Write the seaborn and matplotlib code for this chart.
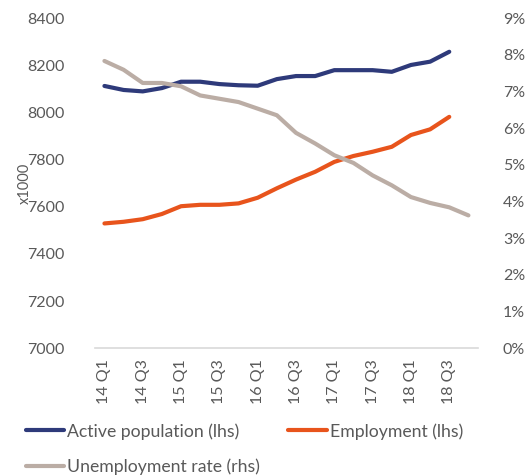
import numpy as np
import pandas as pd
import matplotlib
matplotlib.use("Agg")
from matplotlib import pyplot as plt
import seaborn as sns

quarters = [f"{y} Q{q}" for y in range(14, 19) for q in range(1, 5)]
active_population = [8112, 8095, 8089, 8103, 8130, 8130, 8120, 8115, 8113, 8141,
                     8154, 8154, 8179, 8179, 8179, 8172, 8201, 8215, 8257]
employment = [7529, 7536, 7547, 7569, 7602, 7608, 7608, 7614, 7638, 7678,
              7715, 7748, 7790, 7815, 7833, 7854, 7904, 7928, 7981]
unemployment_rate = [7.83, 7.59, 7.23, 7.23, 7.14, 6.89, 6.80, 6.71, 6.53, 6.35,
                     5.87, 5.58, 5.26, 5.05, 4.71, 4.44, 4.12, 3.96, 3.84, 3.62]

lhs = pd.DataFrame({"pos": range(len(active_population)),
                    "Active population (lhs)": active_population,
                    "Employment (lhs)": employment})
rhs = pd.DataFrame({"pos": range(len(unemployment_rate)),
                    "Unemployment rate (rhs)": unemployment_rate})

sns.set_style("white")
plt.rcParams["font.family"] = ["Lato", "DejaVu Sans"]
txt = "#595959"

fig = plt.figure(figsize=(5.27, 4.75), dpi=100)
ax = fig.add_axes([0.180, 0.267, 0.727, 0.695])
sns.lineplot(data=lhs, x="pos", y="Active population (lhs)", color="#2E3A7A", lw=3, ax=ax,
             label="Active population (lhs)", legend=False)
sns.lineplot(data=lhs, x="pos", y="Employment (lhs)", color="#E8541C", lw=3, ax=ax,
             label="Employment (lhs)", legend=False)
ax2 = ax.twinx()
sns.lineplot(data=rhs, x="pos", y="Unemployment rate (rhs)", color="#BBADA5", lw=3, ax=ax2,
             label="Unemployment rate (rhs)", legend=False)

ax.set_xlim(-0.5, len(quarters) - 0.5)
ax.set_ylim(7000, 8400)
ax.set_yticks(np.arange(7000, 8401, 200))
ax2.set_ylim(0, 9)
ax2.set_yticks(range(0, 10))
ax2.set_yticklabels([f"{v}%" for v in range(0, 10)])
ax.set_xticks(range(0, len(quarters), 2))
ax.set_xticklabels(quarters[::2], rotation=90)

for a in (ax, ax2):
    for s in a.spines.values():
        s.set_visible(False)
    a.tick_params(length=0, labelsize=11.5, colors=txt)
    a.set_xlabel("")
    a.set_ylabel("")
ax.spines["bottom"].set_visible(True)
ax.spines["bottom"].set_color("#D9D9D9")
ax.spines["bottom"].set_linewidth(1.2)
ax.tick_params(axis="y", pad=22)
ax.tick_params(axis="x", pad=8)
ax2.tick_params(axis="y", pad=18)
ax.set_ylabel("x1000", fontsize=10.5, color=txt)
ax.yaxis.set_label_coords(-0.164, 0.5)

h1, l1 = ax.get_legend_handles_labels()
h2, l2 = ax2.get_legend_handles_labels()
# column-major fill: col 1 = active, unemployment; col 2 = employment
handles = [h1[0], h2[0], h1[1]]
labels = [l1[0], l2[0], l1[1]]
fig.legend(handles, labels, loc="upper left", bbox_to_anchor=(0.035, 1 - 416 / 475), ncol=2,
           frameon=False, fontsize=12.7, labelcolor=txt, handlelength=2.2,
           handletextpad=0.15, columnspacing=1.6, labelspacing=1.05, borderaxespad=0.0)

fig.savefig("out.png", dpi=100)
